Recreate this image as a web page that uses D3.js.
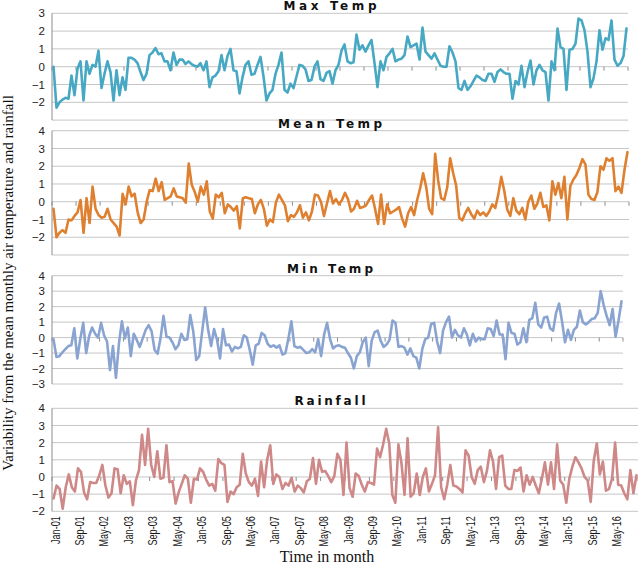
<!DOCTYPE html>
<html><head><meta charset="utf-8">
<script src="https://cdn.jsdelivr.net/npm/d3@7"></script>
<style>body{margin:0;background:#fff;} svg{display:block;}</style>
</head><body>
<svg id="chart" width="638" height="565"></svg>
<script>
// ---- DATA (monthly anomalies, Jan-01 .. Dec-16) ----
const maxTemp = [
 0.0,-2.3,-2.0,-1.85,-1.75,-1.8,-0.5,-1.6,-0.1,0.3,-1.9,0.3,-0.4,0.1,0.0,0.9,
 -1.2,-0.4,0.3,-0.3,-1.9,-0.2,-1.6,-0.6,-1.3,0.5,0.5,0.4,0.2,-0.3,-0.75,-0.4,
 0.65,0.8,1.05,0.7,0.75,0.3,0.3,-0.2,0.8,0.1,0.4,0.4,0.15,0.3,0.15,0.05,
 0.0,0.2,-0.2,0.3,-1.15,-0.6,-0.5,-0.25,0.65,-0.2,0.6,1.0,-0.2,-0.25,-1.5,-0.6,
 0.1,0.3,-0.45,-0.4,0.1,0.55,-0.55,-1.9,-1.5,-1.3,-0.4,0.1,0.8,-1.3,-1.45,-0.95,
 -1.2,-0.55,0.1,0.05,-0.15,-0.8,-0.75,0.0,0.3,-0.7,-0.8,-0.35,-0.25,-0.95,-0.2,0.1,
 0.9,1.25,0.3,0.2,0.25,1.8,0.95,1.2,0.85,1.2,1.5,0.2,-1.15,0.3,-0.2,0.55,
 0.75,1.0,0.3,0.4,0.45,0.65,1.7,1.1,1.2,1.3,0.4,2.2,0.85,0.65,0.45,0.75,
 0.4,0.05,0.0,0.0,1.15,0.8,0.3,-1.2,-1.3,-0.8,-1.3,-1.1,-0.8,-0.5,-0.6,-0.75,
 -0.8,-0.4,-0.4,-0.85,-0.3,-0.15,-0.3,-0.4,-0.4,-1.8,-0.8,-1.0,0.05,-1.15,-0.3,0.35,
 -1.0,-0.2,0.1,-0.2,-0.3,-1.9,0.3,-0.2,2.15,1.1,1.0,-1.3,0.95,1.0,1.3,2.7,
 2.6,2.05,0.85,-1.15,-0.65,0.3,2.05,0.95,1.6,1.5,2.6,0.4,0.05,0.2,0.6,2.15
];
const meanTemp = [
 -0.4,-2.0,-1.75,-1.6,-1.75,-1.0,-1.05,-0.8,-0.6,0.1,-1.75,0.2,-1.2,0.85,-0.4,-0.75,
 -0.9,-0.85,-0.4,-1.0,-1.2,-1.4,-1.9,0.45,-0.15,0.85,0.3,0.45,-0.6,-1.2,-1.0,0.0,
 0.65,0.6,1.3,0.6,1.1,0.1,0.2,0.3,0.75,0.3,0.25,0.2,-0.05,2.15,0.95,0.55,
 0.0,0.85,0.4,1.15,-0.55,-0.95,0.4,0.25,0.5,-0.65,-0.15,-0.3,-0.5,-0.25,-1.5,0.2,
 0.25,0.2,0.15,-0.65,-0.15,0.1,-0.4,-1.35,-1.0,-1.15,-0.05,0.4,0.1,-0.2,-1.1,-0.75,
 -0.85,-0.6,-0.2,-0.9,-0.6,-1.05,-0.55,0.4,0.35,0.0,-0.8,-0.1,0.6,-0.1,0.15,-0.15,
 0.1,0.5,0.15,-0.55,-0.4,0.05,-0.35,-0.3,-0.2,0.1,0.35,-0.4,-1.25,0.4,-1.25,-0.15,
 -0.65,-0.55,-0.45,-0.3,-0.95,-1.4,-0.65,-0.3,-0.75,0.1,0.75,1.6,0.85,-0.4,-0.7,2.7,
 1.2,0.2,0.1,0.8,2.45,1.6,0.9,-0.9,-1.05,-0.65,-0.35,-0.7,-0.95,-0.5,-0.75,-0.6,
 -0.8,-0.55,-0.15,-0.35,0.4,1.4,0.6,-0.45,-0.8,0.2,-0.5,-0.7,-0.35,-1.0,0.0,0.35,
 -0.4,-0.1,0.5,-0.3,-0.2,-1.05,1.15,0.4,1.05,0.2,1.4,-1.0,0.9,1.25,1.5,1.9,
 2.4,2.1,0.4,0.15,0.1,0.55,2.0,1.8,2.45,2.3,2.45,0.6,0.85,0.5,1.8,2.8
];
const minTemp = [
 -0.1,-1.25,-1.2,-0.95,-0.75,-0.55,-0.5,0.6,-1.35,-0.1,0.95,-1.0,0.1,0.65,0.25,0.0,
 0.95,0.15,-0.25,-2.1,-0.55,-2.6,-0.4,1.05,-0.05,0.65,-1.2,0.25,-0.15,-0.6,-0.05,0.5,
 0.8,0.4,-0.8,-1.05,-0.05,1.4,0.05,0.0,-0.3,-0.75,-0.5,0.25,-0.15,-0.1,1.45,0.4,
 -1.45,-1.2,0.4,1.95,0.5,-0.55,0.55,-0.15,-1.35,0.55,-0.5,-0.45,-0.9,-0.6,-0.7,-0.6,
 0.15,0.0,-0.8,-1.75,-0.5,-0.4,0.3,0.15,-0.4,-0.6,-0.5,-0.65,-0.5,-1.1,-1.0,-0.05,
 1.05,-0.55,-0.65,-0.6,-0.8,-1.0,-0.95,-0.75,-0.95,-0.1,-1.2,0.2,0.95,-0.1,-0.7,-0.55,
 -0.5,-0.6,-0.65,-1.0,-1.3,-2.0,-1.2,-0.95,-0.3,0.0,-1.85,-0.2,0.35,0.45,-0.2,-0.6,
 -0.45,-0.15,1.1,0.95,-0.6,-0.55,-0.65,-1.1,-0.7,-1.2,-1.3,-2.0,-0.75,-0.1,0.0,0.9,
 0.95,-0.25,-1.0,0.45,1.0,1.35,0.0,0.5,0.15,0.0,0.6,0.2,-0.5,0.25,-0.25,0.0,
 -0.1,-0.1,0.6,0.55,0.1,1.1,0.2,0.2,-1.4,0.95,0.3,0.25,-0.45,-0.3,0.6,-0.3,
 1.15,1.25,2.25,0.85,0.65,1.3,1.35,0.6,0.45,1.6,2.2,1.05,-0.3,0.5,-0.15,0.5,
 0.7,1.75,1.0,0.85,1.0,1.2,1.25,1.6,3.0,2.1,1.4,0.8,1.85,0.05,1.1,2.35
];
const rainfall = [
 -1.25,-0.5,-0.7,-1.85,-0.6,0.15,-0.6,-0.85,0.5,0.3,-0.9,-1.3,-0.3,-0.35,-0.35,0.1,
 0.7,-0.5,-1.2,-0.95,0.5,0.45,-0.95,0.1,-0.4,-0.25,-1.65,-0.2,0.4,2.45,0.7,2.8,
 0.7,0.0,1.5,-0.1,-0.05,1.85,-0.3,-0.25,-1.55,-0.9,-0.4,0.1,-0.1,-1.5,-0.1,-0.15,
 0.5,0.3,-0.15,-0.5,-0.4,-0.8,1.05,0.8,0.7,-1.45,-0.85,-1.0,-0.6,-0.45,1.35,0.2,
 -0.3,-0.5,-0.1,-1.1,0.9,-0.6,1.0,1.85,-0.4,0.15,0.0,-0.7,-0.35,-0.5,-0.05,-0.85,
 -0.5,-0.65,-0.9,-0.25,-0.1,1.1,-0.4,1.0,0.3,0.35,0.05,-0.3,0.05,1.35,1.0,-1.05,
 2.0,-0.65,-1.15,0.2,0.05,-0.45,-0.85,-0.3,-0.35,-0.45,1.65,1.15,1.9,2.8,1.95,-1.05,
 -1.5,1.9,0.8,-1.05,2.25,-1.15,-0.95,0.2,-1.05,0.0,0.5,-0.85,-0.4,0.1,2.9,-0.6,
 -1.3,-0.45,0.7,-0.5,-0.55,-0.7,-0.9,1.55,1.25,0.0,-0.4,0.4,0.6,-0.3,0.35,1.55,
 0.9,-0.7,1.15,1.25,-0.5,-0.7,-0.7,0.4,0.35,0.55,-0.85,0.1,-0.45,0.0,-0.5,-0.95,
 -0.1,0.85,-0.45,0.85,-0.7,1.9,-0.2,-0.45,-1.5,-0.1,0.6,1.15,0.85,0.5,0.0,-0.2,
 -1.45,0.95,1.95,0.15,0.9,-0.8,-0.7,-0.1,2.0,-0.45,-0.5,-0.95,-1.3,0.4,-0.95,0.1
];
const tickLabels = ["Jan-01","Sep-01","May-02","Jan-03","Sep-03","May-04","Jan-05","Sep-05",
 "May-06","Jan-07","Sep-07","May-08","Jan-09","Sep-09","May-10","Jan-11","Sep-11","May-12",
 "Jan-13","Sep-13","May-14","Jan-15","Sep-15","May-16"];
const monthNames = ["Jan","Feb","Mar","Apr","May","Jun","Jul","Aug","Sep","Oct","Nov","Dec"];
const years = ["01","02","03","04","05","06","07","08","09","10","11","12","13","14","15","16"];
const months = [];
years.forEach(y => monthNames.forEach(m => months.push(m + "-" + y)));

// ---- LAYOUT ----
const svg = d3.select("#chart");
const left = 52;
const panels = [
  {title:"Max Temp", data:maxTemp, color:"#47a8c4", domain:[-3,3], labels:[3,2,1,0,-1,-2], top:13.3, bottom:120.1, right:628, titleY:10, titleW:93},
  {title:"Mean Temp", data:meanTemp, color:"#df8030", domain:[-3,4], labels:[4,3,2,1,0,-1,-2], top:130.7, bottom:255, right:629, titleY:127.5, titleW:104},
  {title:"Min Temp", data:minTemp, color:"#8aa4d2", domain:[-3,4], labels:[4,3,2,1,0,-1,-2,-3], top:275.7, bottom:384, right:623, titleY:273, titleW:86},
  {title:"Rainfall", data:rainfall, color:"#cf8888", domain:[-2,4], labels:[4,3,2,1,0,-1,-2], top:408.3, bottom:511.3, right:638, titleY:405, titleW:71}
];

panels.forEach((p, pi) => {
  const g = svg.append("g");
  const x = d3.scaleBand().domain(months).range([left, p.right]).paddingInner(0).paddingOuter(0);
  const y = d3.scaleLinear().domain(p.domain).range([p.bottom, p.top]);
  const gridVals = d3.range(p.domain[0], p.domain[1] + 1);

  // gridlines
  g.append("g").selectAll("line").data(gridVals).join("line")
    .attr("x1", left).attr("x2", p.right)
    .attr("y1", d => y(d)).attr("y2", d => y(d))
    .attr("stroke", "#c6c6c6").attr("stroke-width", 1);

  // y axis
  const ya = d3.axisLeft(y).tickValues(p.labels).tickSize(0).tickPadding(7).tickFormat(d3.format("d"));
  const yg = g.append("g").attr("transform", `translate(${left},0)`).call(ya);
  yg.select(".domain").attr("stroke", "#8c8c8c").attr("d", `M0,${p.top}V${p.bottom}`);
  yg.selectAll("text").attr("font-family", "Liberation Sans, Arial, sans-serif").attr("font-size", 11.5).attr("fill", "#222");

  // category ticks on zero line
  const tickIdx = d3.range(0, months.length + 1, 8);
  g.append("g").selectAll("line").data(tickIdx).join("line")
    .attr("x1", i => i < months.length ? x(months[i]) : p.right)
    .attr("x2", i => i < months.length ? x(months[i]) : p.right)
    .attr("y1", y(0)).attr("y2", y(0) + 4)
    .attr("stroke", "#8c8c8c").attr("stroke-width", 1);

  // line
  const line = d3.line().x((d, i) => x(months[i]) + x.bandwidth() / 2).y(d => y(d));
  g.append("path").datum(p.data).attr("d", line)
    .attr("fill", "none").attr("stroke", p.color).attr("stroke-width", 2.6)
    .attr("stroke-linejoin", "round").attr("stroke-linecap", "round");

  // title
  g.append("text").attr("x", 330).attr("y", p.titleY).attr("text-anchor", "middle")
    .attr("font-family", "DejaVu Sans, Verdana, sans-serif").attr("font-weight", "bold")
    .attr("font-size", 12).attr("textLength", p.titleW).attr("lengthAdjust", "spacing")
    .attr("fill", "#111").text(p.title);

  // x axis labels on last panel
  if (pi === panels.length - 1) {
    const xa = d3.axisBottom(x).tickValues(tickLabels).tickSize(0).tickPadding(0);
    const xg = g.append("g").attr("transform", `translate(${x.bandwidth() / 2},${p.bottom})`).call(xa);
    xg.select(".domain").remove();
    xg.selectAll("text")
      .attr("transform", "rotate(-90) scale(0.7,1)")
      .attr("x", -7).attr("y", 0).attr("dy", "0.35em")
      .attr("text-anchor", "end")
      .attr("font-family", "Liberation Sans, Arial, sans-serif")
      .attr("font-size", 13).attr("fill", "#1a1a1a");
  }
});

// axis titles
svg.append("text").attr("transform", "translate(13,283) rotate(-90)")
  .attr("text-anchor", "middle").attr("font-family", "Liberation Serif, Times New Roman, serif")
  .attr("font-size", 15).attr("fill", "#111")
  .text("Variability from the mean monthly air temperature and rainfall");
svg.append("text").attr("x", 327).attr("y", 562).attr("text-anchor", "middle")
  .attr("font-family", "Liberation Serif, Times New Roman, serif")
  .attr("font-size", 16).attr("fill", "#111").text("Time in month");
</script>
</body></html>
